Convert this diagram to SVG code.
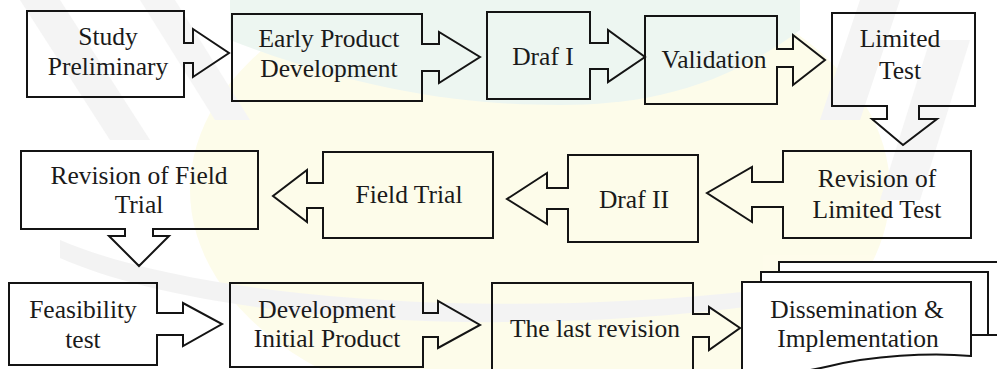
<svg xmlns="http://www.w3.org/2000/svg" width="997" height="369" viewBox="0 0 997 369">
<style>
.shape{fill:none;stroke:#141414;stroke-width:2;stroke-linejoin:miter}
.page{fill:#ffffff;stroke:#141414;stroke-width:2}
.lbl{font-family:'Liberation Serif','DejaVu Serif','Times New Roman',serif;font-size:25.5px;fill:#1a1a1a;text-anchor:middle}
</style>
<rect width="997" height="369" fill="#ffffff"/>
<g id="watermark" opacity="0.7">
<ellipse cx="540" cy="190" rx="350" ry="230" fill="#fdfbe2"/>
<path d="M230,0 H800 V30 C720,90 640,105 560,105 C460,105 360,90 230,40 Z" fill="#e6f3ec"/>
<path d="M20,0 L60,0 L150,140 L110,140 Z" fill="#f0f0f0"/>
<path d="M140,0 L175,0 L250,120 L215,120 Z" fill="#f2f2f2"/>
<path d="M860,0 L900,0 L860,120 L820,120 Z" fill="#f0f0f0"/>
<path d="M930,40 L970,40 L920,200 L880,200 Z" fill="#f2f2f2"/>
<path d="M60,240 C200,300 500,320 760,290 L760,305 C500,340 200,320 60,258 Z" fill="#efefef"/>
</g>
<g id="connectors"></g>
<g id="n1"><path class="shape" d="M27,11 H184 V43 H193 V29 L229,53 L193,77 V63 H184 V97 H27 Z"/><text class="lbl" x="108" y="45">Study</text><text class="lbl" x="108" y="75">Preliminary</text></g>
<g id="n2"><path class="shape" d="M232,14 H422 V44 H439 V32 L480,57 L439,83 V71 H422 V101 H232 Z"/><text class="lbl" x="329" y="47">Early Product</text><text class="lbl" x="329" y="77">Development</text></g>
<g id="n3"><path class="shape" d="M487,12 H590 V43 H608 V30 L645,57 L608,82 V69 H590 V99 H487 Z"/><text class="lbl" x="543" y="65">Draf I</text></g>
<g id="n4"><path class="shape" d="M645,16 H777 V49 H793 V35 L825,60 L793,85 V67 H777 V104 H645 Z"/><text class="lbl" x="714" y="68">Validation</text></g>
<g id="n5"><path class="shape" d="M832,13 H975 V106 H919 V119 H937 L903,145 L872,119 H887 V106 H832 Z"/><text class="lbl" x="900" y="47">Limited</text><text class="lbl" x="900" y="79">Test</text></g>
<g id="n6"><path class="shape" d="M971,151 V238 H783 V207 H752 V222 L707,193 L752,167 V182 H783 V151 Z"/><text class="lbl" x="877" y="187">Revision of</text><text class="lbl" x="877" y="218">Limited Test</text></g>
<g id="n7"><path class="shape" d="M698,155 V242 H568 V209 H547 V224 L507,199 L547,173 V188 H568 V155 Z"/><text class="lbl" x="634" y="208">Draf II</text></g>
<g id="n8"><path class="shape" d="M493,152 V238 H323 V208 H307 V222 L273,196 L307,170 V183 H323 V152 Z"/><text class="lbl" x="409" y="203">Field Trial</text></g>
<g id="n9"><path class="shape" d="M21,151 H258 V229 H153 V236 H169 L139,266 L109,236 H125 V229 H21 Z"/><text class="lbl" x="139" y="184">Revision of Field</text><text class="lbl" x="139" y="213">Trial</text></g>
<g id="n10"><path class="shape" d="M9,283 H157 V313 H183 V303 L222,324 L183,346 V335 H157 V365 H9 Z"/><text class="lbl" x="83" y="318">Feasibility</text><text class="lbl" x="83" y="348">test</text></g>
<g id="n11"><path class="shape" d="M230,283 H423 V313 H438 V301 L480,325 L438,348 V337 H423 V367 H230 Z"/><text class="lbl" x="327" y="318">Development</text><text class="lbl" x="327" y="347">Initial Product</text></g>
<g id="n12"><path class="shape" d="M492,380 V283 H693 V314 H709 V307 L740,328 L709,350 V337 H693 V380"/><text class="lbl" x="595" y="337">The last revision</text></g>
<g id="n13">
<path class="page" d="M779,272 V262 H1005 V335 H988"/>
<path class="page" d="M761,282 V272 H988 V335 H971"/>
<path class="page" d="M742,282 H971 V356 C930,352 870,356 830,366 C800,373 770,376 742,373 Z"/>
<text class="lbl" x="857" y="318">Dissemination &amp;</text><text class="lbl" x="858" y="347">Implementation</text>
</g>
</svg>
